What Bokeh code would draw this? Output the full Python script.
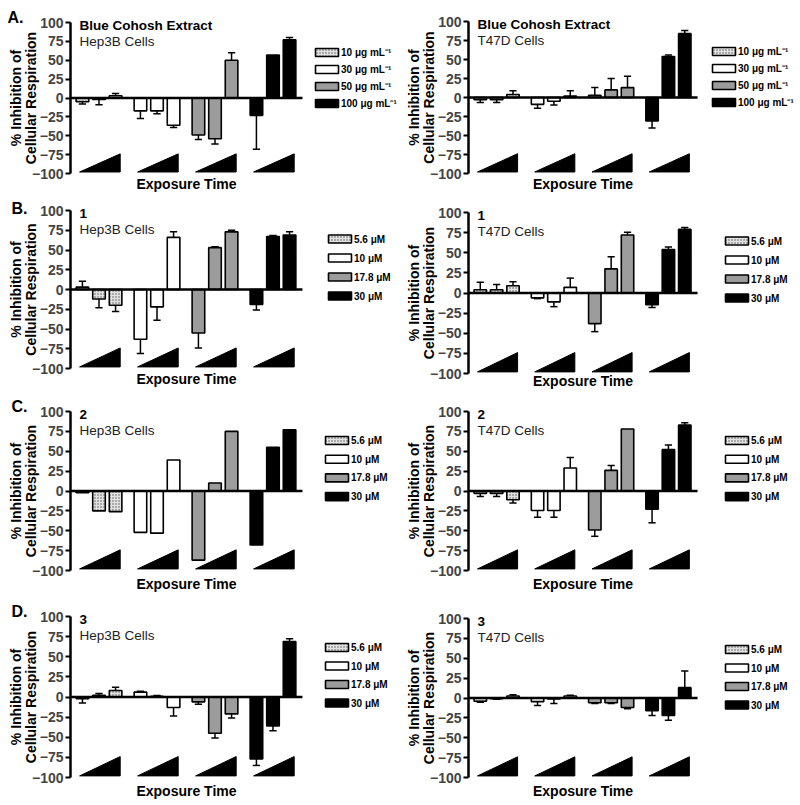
import math
from bokeh.plotting import figure
from bokeh.models import Range1d, FixedTicker
from bokeh.layouts import gridplot
from bokeh.embed import file_html
from bokeh.resources import INLINE
from bokeh.core.properties import value

# ---------------- data ----------------
Y_TICKS = [-100, -75, -50, -25, 0, 25, 50, 75, 100]
EXTRACT_DOSES = ["10 μg mL⁻¹", "30 μg mL⁻¹", "50 μg mL⁻¹", "100 μg mL⁻¹"]
COMPOUND_DOSES = ["5.6 μM", "10 μM", "17.8 μM", "30 μM"]
PANEL_LETTERS = ["A.", "B.", "C.", "D."]
PANEL_HEADS = ["Blue Cohosh Extract", "1", "2", "3"]
CELL_LINES = ["Hep3B Cells", "T47D Cells"]
Y_LABEL_1 = "% Inhibition of"
Y_LABEL_2 = "Cellular Respiration"
X_LABEL = "Exposure Time"

# mean % inhibition per dose (3 exposure times each) and error (SD)
EXTRACT_HEP3B_MEAN = [[-5, -2, 3], [-17, -17, -36], [-49, -54, 50], [-23, 57, 77]]
EXTRACT_HEP3B_ERR = [[3, 7, 3], [10, 4, 3], [6, 7, 10], [45, 0, 3]]
EXTRACT_T47D_MEAN = [[-3, -3, 4], [-9, -5, 2], [3, 10, 13], [-31, 54, 84]]
EXTRACT_T47D_ERR = [[3.5, 3.5, 5], [5, 5, 7], [10, 15, 15], [9, 2, 4]]

C1_HEP3B_MEAN = [[3, -12, -20], [-63, -22, 66], [-55, 53, 73], [-19, 67, 69]]
C1_HEP3B_ERR = [[7.5, 11, 8], [18, 17, 7], [19, 1, 2], [7, 1.5, 4]]
C1_T47D_MEAN = [[4, 4, 9], [-6, -11, 7], [-38, 30, 72], [-14.5, 54, 79]]
C1_T47D_ERR = [[9.5, 6.5, 5], [1, 6, 11.5], [10, 15, 3.5], [3.5, 3, 2.5]]

C2_HEP3B_MEAN = [[-2, -25, -26], [-52, -53, 39], [-87, 10, 75], [-68, 55, 77]]
C2_HEP3B_ERR = [[0, 0, 0], [0, 0, 0], [0, 0, 0], [0, 0, 0]]
C2_T47D_MEAN = [[-3, -3, -11], [-24.5, -24.5, 29], [-49, 26, 78], [-23, 52, 83]]
C2_T47D_ERR = [[4, 4, 4], [8.5, 8.5, 13], [8, 6, 0], [17, 6, 3]]

C3_HEP3B_MEAN = [[-2, 2, 8], [6, 1, -13], [-6, -45, -21], [-77, -36, 69]]
C3_HEP3B_ERR = [[5.5, 2.5, 4], [1, 1, 10.5], [3, 6, 5], [8, 6, 3.5]]
C3_T47D_MEAN = [[-4, -1, 2.5], [-4.5, -1.3, 2.5], [-6, -6, -12], [-16, -22, 13]]
C3_T47D_ERR = [[1.5, 0.5, 1.5], [5, 5.5, 1], [1, 1, 1.5], [6, 6, 21]]

MEANS = [[EXTRACT_HEP3B_MEAN, EXTRACT_T47D_MEAN],
         [C1_HEP3B_MEAN, C1_T47D_MEAN],
         [C2_HEP3B_MEAN, C2_T47D_MEAN],
         [C3_HEP3B_MEAN, C3_T47D_MEAN]]
ERRS = [[EXTRACT_HEP3B_ERR, EXTRACT_T47D_ERR],
        [C1_HEP3B_ERR, C1_T47D_ERR],
        [C2_HEP3B_ERR, C2_T47D_ERR],
        [C3_HEP3B_ERR, C3_T47D_ERR]]
LEGENDS = [EXTRACT_DOSES, COMPOUND_DOSES, COMPOUND_DOSES, COMPOUND_DOSES]

# ---------------- layout / style ----------------
FONT = "Liberation Sans"
FIG_W = [400, 398]
ROW_H = [199, 198, 200, 206]
TOP = [[22, 21], [11, 13], [14, 14], [19, 21]]       # px from figure top to y=100
BOTTOM = [[26, 26], [29, 24], [27, 27], [26, 26]]    # px from y=-100 to figure bottom
LEFT = [70, 68]                                      # px from figure left to y axis
XPX = [16.57, 16.36]                                 # px per x unit
AXIS_END = 14.0
GROUP_STEP = 3.5
FIRST = 0.72
BAR_W = 0.76
CAP = 0.22
LETTER_X = [7, 11, 11, 11]
LETTER_UP = [5, 2, 5, 5]
XLAB_DOWN = [[10, 10], [10, 7], [13, 13], [13, 13]]
LEG_X = [[245, 244], [258, 257], [255, 257], [255, 257]]
LEG_Y0 = [30, 28.5, 29, 31]
LEG_DY = [17, 19, 18.7, 18.5]
DOSE_FILL = ["#e2e2e2", "#ffffff", "#9c9c9c", "#000000"]


def txt(p, x, y, s, size, bold=True, align="left", angle=0.0, color="black"):
    p.text(x=[x], y=[y], text=[s], text_font=value(FONT), text_font_size=size,
           text_font_style="bold" if bold else "normal", text_baseline="middle",
           text_align=align, angle=angle, text_color=color)


def build(r, c):
    mean = MEANS[r][c]
    err = ERRS[r][c]
    H = ROW_H[r]
    W = FIG_W[c]
    top, bottom, left = TOP[r][c], BOTTOM[r][c], LEFT[c]
    ypx = (H - top - bottom) / 200.0
    xpx = XPX[c]

    p = figure(width=W, height=H,
               x_range=Range1d(-left / xpx, (W - left) / xpx),
               y_range=Range1d(-100 - bottom / ypx, 100 + top / ypx),
               output_backend="svg", toolbar_location=None, tools="",
               min_border=0, outline_line_color=None)
    p.xaxis.visible = False
    p.xgrid.visible = False
    p.ygrid.visible = False
    ya = p.yaxis[0]
    ya.fixed_location = 0
    ya.bounds = (-100, 100)
    ya.ticker = FixedTicker(ticks=Y_TICKS)
    ya.axis_line_width = 2.5
    ya.major_tick_line_width = 2
    ya.major_tick_out = 5
    ya.major_tick_in = 0
    ya.minor_tick_line_color = None
    ya.major_label_text_font = FONT
    ya.major_label_text_font_size = "14px"
    ya.major_label_text_font_style = "bold"
    ya.major_label_standoff = 2

    # bars and error bars
    for g in range(4):
        xs = [g * GROUP_STEP + FIRST + j for j in range(3)]
        kw = dict(fill_color=DOSE_FILL[g], line_color="black", line_width=1.6)
        if g == 0:
            kw.update(hatch_pattern="dot", hatch_color="#555555", hatch_scale=3, hatch_weight=1)
        p.vbar(x=xs, top=mean[g], bottom=0, width=BAR_W, **kw)
        ex, ey0, ey1 = [], [], []
        for x, m, e in zip(xs, mean[g], err[g]):
            if e > 0:
                ex.append(x)
                ey0.append(m)
                ey1.append(m + e if m >= 0 else m - e)
        if ex:
            p.segment(x0=ex, y0=ey0, x1=ex, y1=ey1, line_color="black", line_width=1.5)
            p.segment(x0=[x - CAP for x in ex], y0=ey1, x1=[x + CAP for x in ex], y1=ey1,
                      line_color="black", line_width=1.5)

    # x axis line at zero
    p.segment(x0=[0], y0=[0], x1=[AXIS_END], y1=[0], line_color="black", line_width=2.5)

    # exposure-time wedges
    wx = [[g * GROUP_STEP + 0.55, g * GROUP_STEP + 3.0, g * GROUP_STEP + 3.0] for g in range(4)]
    wy = [[-98, -98, -74] for g in range(4)]
    p.patches(xs=wx, ys=wy, fill_color="black", line_color="black", line_width=1)

    # header texts
    hx = 9 / xpx
    txt(p, hx, 100 - 3 / ypx, PANEL_HEADS[r], "13.5px", bold=True)
    txt(p, hx, 100 - 18.5 / ypx, CELL_LINES[c], "13.5px", bold=False, color="#222222")

    # legend
    lx0 = LEG_X[r][c] / xpx
    lw = 23 / xpx
    lh = 8 / ypx
    for i in range(4):
        ly = 100 - (LEG_Y0[r] + i * LEG_DY[r]) / ypx
        kw = dict(fill_color=DOSE_FILL[i], line_color="black", line_width=1.6)
        if i == 0:
            kw.update(hatch_pattern="dot", hatch_color="#555555", hatch_scale=3, hatch_weight=1)
        p.rect(x=[lx0 + lw / 2], y=[ly], width=lw, height=lh, **kw)
        txt(p, lx0 + lw + 2.5 / xpx, ly, LEGENDS[r][i], "10px", bold=True)

    # y-axis title (two lines)
    txt(p, -55 / xpx, 0, Y_LABEL_1, "14px", align="center", angle=math.pi / 2)
    txt(p, -40 / xpx, 0, Y_LABEL_2, "14px", align="center", angle=math.pi / 2)
    # x title
    txt(p, AXIS_END / 2, -100 - XLAB_DOWN[r][c] / ypx, X_LABEL, "14px", align="center")
    # panel letter
    if c == 0:
        txt(p, -(left - LETTER_X[r]) / xpx, 100 + LETTER_UP[r] / ypx, PANEL_LETTERS[r], "16px")
    return p


grid = gridplot([[build(r, c) for c in range(2)] for r in range(4)], toolbar_location=None)
open("out.html", "w").write(file_html(grid, INLINE))
